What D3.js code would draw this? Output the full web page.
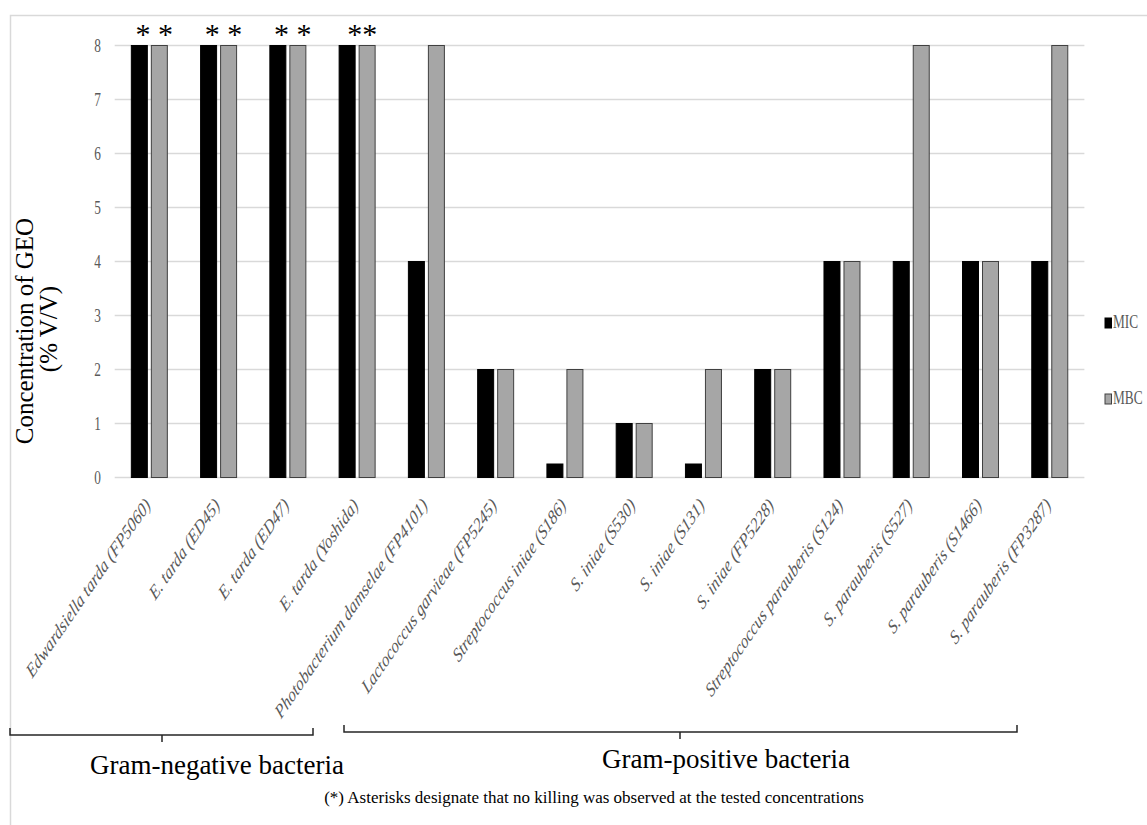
<!DOCTYPE html>
<html>
<head>
<meta charset="utf-8">
<script src="https://cdn.jsdelivr.net/npm/d3@7"></script>
<style>
  body { margin: 0; background: #fff; }
  svg { font-family: "Liberation Serif", "Times New Roman", serif; }
</style>
</head>
<body>
<div id="chart"></div>
<script>
// chart data
var strains = [
  "Edwardsiella tarda (FP5060)", "E. tarda (ED45)", "E. tarda (ED47)", "E. tarda (Yoshida)",
  "Photobacterium damselae (FP4101)", "Lactococcus garvieae (FP5245)", "Streptococcus iniae (S186)",
  "S. iniae (S530)", "S. iniae (S131)", "S. iniae (FP5228)", "Streptococcus parauberis (S124)",
  "S. parauberis (S527)", "S. parauberis (S1466)", "S. parauberis  (FP3287)"
];
var micValues = [8, 8, 8, 8, 4, 2, 0.25, 1, 0.25, 2, 4, 4, 4, 4];
var mbcValues = [8, 8, 8, 8, 8, 2, 2, 1, 2, 2, 4, 8, 4, 8];
var asteriskMarks = ["* *", "* *", "* *", "**"];
var seriesNames = ["MIC", "MBC"];
var yTicks = [0, 1, 2, 3, 4, 5, 6, 7, 8];

var svgWidth = 1147;
var svgHeight = 825;
var squeeze = 0.74;   // the picture is compressed horizontally

var svg = d3.select("#chart")
  .append("svg")
  .attr("width", svgWidth)
  .attr("height", svgHeight);

// outer frame
svg.append("rect")
  .attr("x", 10.5).attr("y", 15.5)
  .attr("width", 1200).attr("height", 900)
  .attr("fill", "none")
  .attr("stroke", "#d9d9d9")
  .attr("stroke-width", 1.5);

var rows = strains.map(function(s, i) {
  return { name: s, MIC: micValues[i], MBC: mbcValues[i] };
});

var x0 = d3.scaleBand().domain(strains).range([114.7, 1084.4]).padding(0);
var x1 = d3.scaleBand().domain(seriesNames)
  .range([x0.bandwidth() / 2 - 18, x0.bandwidth() / 2 + 18])
  .paddingInner(0.2);
var y = d3.scaleLinear().domain([0, 8]).range([477.5, 45.5]);

// gridlines
svg.append("g")
  .selectAll("line")
  .data(yTicks)
  .enter()
  .append("line")
  .attr("x1", 114.7).attr("x2", 1084.4)
  .attr("y1", d => y(d)).attr("y2", d => y(d))
  .attr("stroke", "#d9d9d9")
  .attr("stroke-width", 1.3);

// y tick labels
svg.append("g")
  .selectAll("text")
  .data(yTicks)
  .enter()
  .append("text")
  .attr("transform", d => `translate(101, ${y(d) + 6}) scale(${squeeze}, 1)`)
  .attr("text-anchor", "end")
  .attr("font-size", "18px")
  .attr("fill", "#595959")
  .text(d => d);

// bars
var groups = svg.append("g")
  .selectAll("g")
  .data(rows)
  .enter()
  .append("g")
  .attr("transform", d => `translate(${x0(d.name)}, 0)`);

groups.selectAll("rect")
  .data(d => seriesNames.map(k => ({ key: k, value: d[k] })))
  .enter()
  .append("rect")
  .attr("x", d => x1(d.key))
  .attr("width", x1.bandwidth())
  .attr("y", d => y(d.value))
  .attr("height", d => y(0) - y(d.value))
  .attr("fill", d => d.key == "MIC" ? "#000000" : "#a6a6a6")
  .attr("stroke", d => d.key == "MIC" ? "#000000" : "#404040")
  .attr("stroke-width", 1);

// asterisks above the gram-negative strains
svg.append("g")
  .selectAll("text")
  .data(asteriskMarks)
  .enter()
  .append("text")
  .attr("x", (d, i) => x0(strains[i]) + x0.bandwidth() / 2 + 5)
  .attr("y", 44)
  .attr("text-anchor", "middle")
  .attr("font-size", "30px")
  .attr("fill", "#000")
  .text(d => d);

// rotated category labels
svg.append("g")
  .selectAll("text")
  .data(strains)
  .enter()
  .append("text")
  .attr("transform", d => `translate(${x0(d) + x0.bandwidth() / 2 + 2}, 506) scale(${squeeze}, 1) rotate(-47)`)
  .attr("text-anchor", "end")
  .attr("font-size", "20px")
  .attr("font-style", "italic")
  .attr("fill", "#595959")
  .text(d => d);

// y axis title
svg.append("text")
  .attr("transform", "translate(33, 331) rotate(-90)")
  .attr("text-anchor", "middle")
  .attr("font-size", "25px")
  .attr("fill", "#000")
  .text("Concentration of GEO");

svg.append("text")
  .attr("transform", "translate(57, 329) rotate(-90)")
  .attr("text-anchor", "middle")
  .attr("font-size", "25px")
  .attr("fill", "#000")
  .text("(% V/V)");

// legend
var legendY = [328, 404];
var legend = svg.append("g")
  .selectAll("g")
  .data(seriesNames)
  .enter()
  .append("g")
  .attr("transform", (d, i) => `translate(1105, ${legendY[i]})`);

legend.append("rect")
  .attr("x", 0).attr("y", -10)
  .attr("width", 6.5).attr("height", 10)
  .attr("fill", d => d == "MIC" ? "#000" : "#a6a6a6")
  .attr("stroke", d => d == "MIC" ? "#000" : "#404040")
  .attr("stroke-width", 1);

legend.append("text")
  .attr("transform", `translate(8, 0) scale(${squeeze}, 1)`)
  .attr("font-size", "18px")
  .attr("fill", "#595959")
  .text(d => d);

// group brackets
var brackets = [
  { x1: 10, x2: 313, yLine: 735, mid: 162, label: "Gram-negative bacteria", lx: 217, ly: 774 },
  { x1: 344, x2: 1017, yLine: 732, mid: 680, label: "Gram-positive bacteria", lx: 726, ly: 768 }
];

brackets.forEach(function(b) {
  svg.append("path")
    .attr("d", `M${b.x1},${b.yLine - 7}V${b.yLine}H${b.x2}V${b.yLine - 7}M${b.mid},${b.yLine}V${b.yLine + 7}`)
    .attr("fill", "none")
    .attr("stroke", "#262626")
    .attr("stroke-width", 1.5);

  svg.append("text")
    .attr("x", b.lx).attr("y", b.ly)
    .attr("text-anchor", "middle")
    .attr("font-size", "27px")
    .attr("fill", "#000")
    .text(b.label);
});

// footnote
svg.append("text")
  .attr("x", 594).attr("y", 803)
  .attr("text-anchor", "middle")
  .attr("font-size", "17px")
  .attr("fill", "#000")
  .text("(*) Asterisks designate that no killing was observed at the tested concentrations");
</script>
</body>
</html>
